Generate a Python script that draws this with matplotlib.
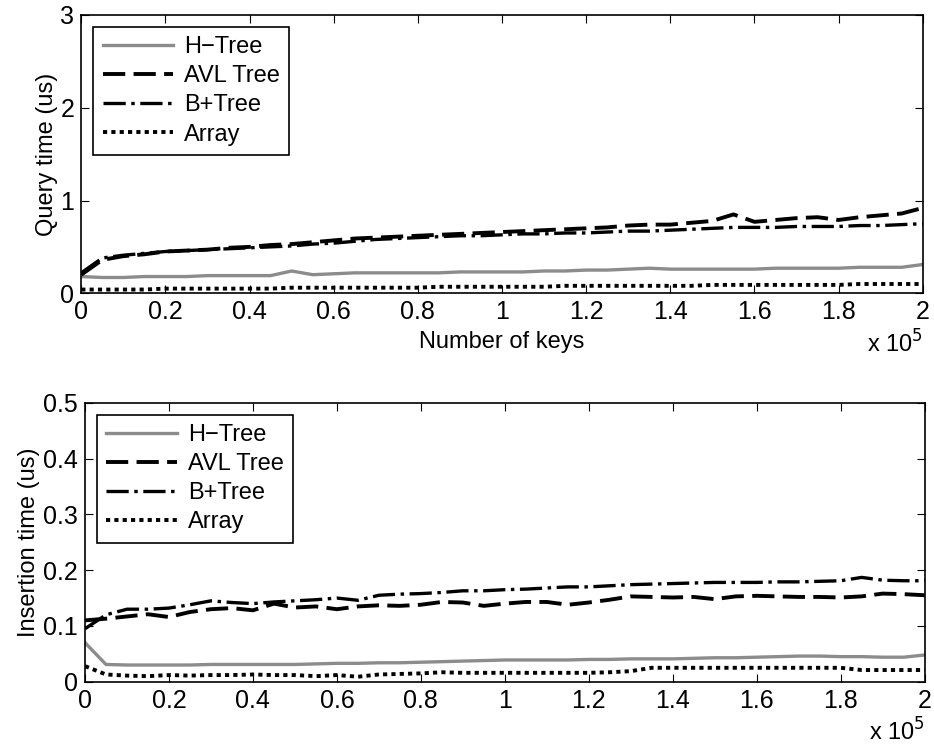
import numpy as np
import matplotlib
matplotlib.use("Agg")
import matplotlib.pyplot as plt
from matplotlib.ticker import FuncFormatter

plt.rcParams['font.family'] = ['Liberation Sans', 'DejaVu Sans']
plt.rcParams['lines.scale_dashes'] = False

# number of keys, sampled every 5000
n_keys = np.arange(0, 205000, 5000)

labels = ['H\u2212Tree', 'AVL Tree', 'B+Tree', 'Array']

query_htree = [0.18, 0.17, 0.17, 0.18, 0.18, 0.18, 0.19, 0.19, 0.19, 0.19,
               0.24, 0.20, 0.21, 0.22, 0.22, 0.22, 0.22, 0.22, 0.23, 0.23,
               0.23, 0.23, 0.24, 0.24, 0.25, 0.25, 0.26, 0.27, 0.26, 0.26,
               0.26, 0.26, 0.26, 0.27, 0.27, 0.27, 0.27, 0.28, 0.28, 0.28, 0.31]
query_avl = [0.20, 0.36, 0.40, 0.42, 0.45, 0.46, 0.47, 0.49, 0.50, 0.52,
             0.53, 0.55, 0.57, 0.59, 0.60, 0.61, 0.62, 0.63, 0.64, 0.65,
             0.66, 0.67, 0.68, 0.69, 0.70, 0.71, 0.73, 0.74, 0.74, 0.76,
             0.78, 0.85, 0.77, 0.79, 0.81, 0.82, 0.79, 0.82, 0.84, 0.86, 0.92]
query_bplus = [0.22, 0.38, 0.41, 0.43, 0.45, 0.46, 0.47, 0.48, 0.49, 0.50,
               0.51, 0.53, 0.54, 0.56, 0.58, 0.59, 0.60, 0.61, 0.62, 0.62,
               0.63, 0.64, 0.64, 0.65, 0.65, 0.66, 0.67, 0.67, 0.68, 0.69,
               0.70, 0.71, 0.71, 0.71, 0.72, 0.72, 0.72, 0.73, 0.73, 0.74, 0.75]
query_array = [0.04, 0.04, 0.04, 0.04, 0.05, 0.05, 0.05, 0.05, 0.05, 0.05,
               0.06, 0.06, 0.06, 0.06, 0.06, 0.06, 0.06, 0.07, 0.07, 0.07,
               0.07, 0.07, 0.07, 0.08, 0.08, 0.08, 0.08, 0.08, 0.08, 0.08,
               0.09, 0.09, 0.09, 0.09, 0.09, 0.09, 0.09, 0.10, 0.10, 0.10, 0.10]

insert_htree = [0.070, 0.031, 0.030, 0.030, 0.030, 0.030, 0.031, 0.031, 0.031, 0.031,
                0.031, 0.032, 0.033, 0.033, 0.034, 0.034, 0.035, 0.036, 0.037, 0.038,
                0.039, 0.039, 0.039, 0.039, 0.040, 0.040, 0.041, 0.041, 0.041, 0.042,
                0.043, 0.043, 0.044, 0.045, 0.046, 0.046, 0.045, 0.045, 0.044, 0.044, 0.048]
insert_avl = [0.110, 0.113, 0.117, 0.121, 0.116, 0.125, 0.130, 0.132, 0.128, 0.140,
              0.133, 0.135, 0.130, 0.135, 0.137, 0.136, 0.138, 0.143, 0.142, 0.136,
              0.140, 0.143, 0.143, 0.138, 0.142, 0.147, 0.153, 0.152, 0.151, 0.152,
              0.148, 0.153, 0.154, 0.153, 0.152, 0.152, 0.151, 0.153, 0.158, 0.157, 0.155]
insert_bplus = [0.095, 0.120, 0.130, 0.130, 0.132, 0.138, 0.145, 0.142, 0.140, 0.143,
                0.145, 0.147, 0.150, 0.146, 0.155, 0.157, 0.158, 0.160, 0.163, 0.163,
                0.165, 0.166, 0.168, 0.170, 0.170, 0.172, 0.174, 0.175, 0.176, 0.177,
                0.178, 0.178, 0.178, 0.179, 0.179, 0.180, 0.181, 0.187, 0.182, 0.181, 0.181]
insert_array = [0.028, 0.013, 0.011, 0.010, 0.012, 0.011, 0.012, 0.012, 0.013, 0.012,
                0.012, 0.010, 0.012, 0.009, 0.013, 0.014, 0.015, 0.017, 0.016, 0.016,
                0.016, 0.016, 0.016, 0.016, 0.016, 0.017, 0.019, 0.025, 0.025, 0.025,
                0.025, 0.025, 0.025, 0.025, 0.025, 0.025, 0.025, 0.021, 0.021, 0.021, 0.021]

styles = [
    dict(color='#8c8c8c', lw=2.4, ls='-'),
    dict(color='black', lw=2.8, ls=(0, (16, 6))),
    dict(color='black', lw=2.4, ls=(0, (16, 4, 2.5, 4))),
    dict(color='black', lw=2.8, ls=(0, (3, 3))),
]

TICK_FS = 18
LEG_FS = 17
LABEL_FS = 17


def draw(ax, series, ylim, yticks, ylabel):
    for y, lab, st in zip(series, labels, styles):
        ax.plot(n_keys, y, label=lab, **st)
    ax.set_xlim(0, 200000)
    ax.set_ylim(*ylim)
    ax.set_xticks(np.arange(0, 200001, 20000))
    ax.xaxis.set_major_formatter(FuncFormatter(lambda v, p: '%g' % (v / 1e5)))
    ax.set_yticks(yticks)
    ax.yaxis.set_major_formatter(FuncFormatter(lambda v, p: '%g' % v))
    ax.tick_params(direction='in', top=True, right=True, length=6,
                   labelsize=TICK_FS, pad=5)
    ax.set_ylabel(ylabel, fontsize=LABEL_FS, labelpad=2)
    for s in ax.spines.values():
        s.set_linewidth(1.2)
    leg = ax.legend(loc='upper left', fontsize=LEG_FS, handlelength=3.0,
                    fancybox=False, edgecolor='black', framealpha=1,
                    borderaxespad=0.5, labelspacing=0.3, handletextpad=0.45,
                    borderpad=0.4)
    leg.get_frame().set_linewidth(1.2)


fig = plt.figure(figsize=(9.34, 7.5), dpi=100)

ax1 = fig.add_axes([0.087, 0.609, 0.901, 0.371])
draw(ax1, [query_htree, query_avl, query_bplus, query_array],
     (0, 3), [0, 1, 2, 3], 'Query time (us)')
ax1.set_xlabel('Number of keys', fontsize=LEG_FS, labelpad=5)
ax1.text(1.0, -0.135, r'x 10$^5$', transform=ax1.transAxes, fontsize=LEG_FS,
         ha='right', va='top')

ax2 = fig.add_axes([0.091, 0.091, 0.899, 0.372])
draw(ax2, [insert_htree, insert_avl, insert_bplus, insert_array],
     (0, 0.5), [0, 0.1, 0.2, 0.3, 0.4, 0.5], 'Insertion time (us)')
ax2.text(1.0, -0.13, r'x 10$^5$', transform=ax2.transAxes, fontsize=LEG_FS,
         ha='right', va='top')

fig.savefig('out.png', dpi=100)
